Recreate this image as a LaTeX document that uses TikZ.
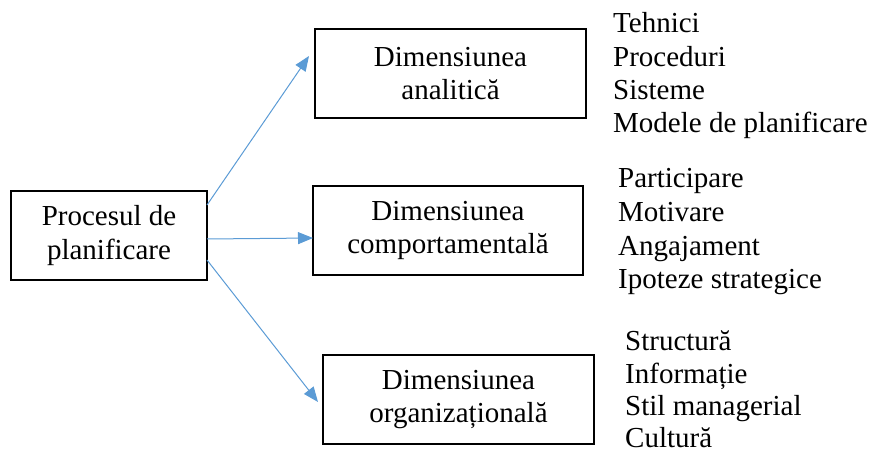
\documentclass[tikz,border=0pt]{standalone}
\usepackage{fontspec}
\setmainfont{Liberation Serif}
\usetikzlibrary{arrows.meta}
\definecolor{arrowblue}{RGB}{91,155,213}
\tikzset{
  box/.style={draw=black, line width=1.8pt, minimum height=89pt, align=center, inner sep=0pt,
    font=\fontsize{29}{33.5}\selectfont},
  item/.style={anchor=base west, inner sep=0pt, font=\fontsize{29}{33.5}\selectfont},
  conn/.style={draw=arrowblue, line width=1pt, -{Triangle[length=15pt,width=12pt]}}
}
\begin{document}
\begin{tikzpicture}[x=1pt,y=-1pt]
\useasboundingbox (0,0) rectangle (870,454);
\node[box, minimum width=196pt] (p) at (109,235.5) {Procesul de\\planificare};
\node[box, minimum width=271pt] (a) at (450.5,73.5) {Dimensiunea\\analitică};
\node[box, minimum width=270pt] (c) at (448,230.5) {Dimensiunea\\comportamentală};
\node[box, minimum width=271pt] (o) at (458.5,399.5) {Dimensiunea\\organizațională};

\coordinate (s1) at (207,205);
\coordinate (e1) at (309,56);
\coordinate (s2) at (207,239);
\coordinate (e2) at (313,238);
\coordinate (s3) at (207,260);
\coordinate (e3) at (318,402);
\draw[conn] (s1) -- (e1);
\draw[conn] (s2) -- (e2);
\draw[conn] (s3) -- (e3);

\node[item] (a1) at (613,33) {Tehnici};
\node[item] (a2) at (613,67) {Proceduri};
\node[item] (a3) at (613,100) {Sisteme};
\node[item] (a4) at (613,133) {Modele de planificare};

\node[item] (c1) at (618,188) {Participare};
\node[item] (c2) at (618,222) {Motivare};
\node[item] (c3) at (618,256) {Angajament};
\node[item] (c4) at (618,289) {Ipoteze strategice};

\node[item] (o1) at (625,350) {Structură};
\node[item] (o2) at (625,383) {Informație};
\node[item] (o3) at (625,415) {Stil managerial};
\node[item] (o4) at (625,447) {Cultură};
\end{tikzpicture}
\end{document}
